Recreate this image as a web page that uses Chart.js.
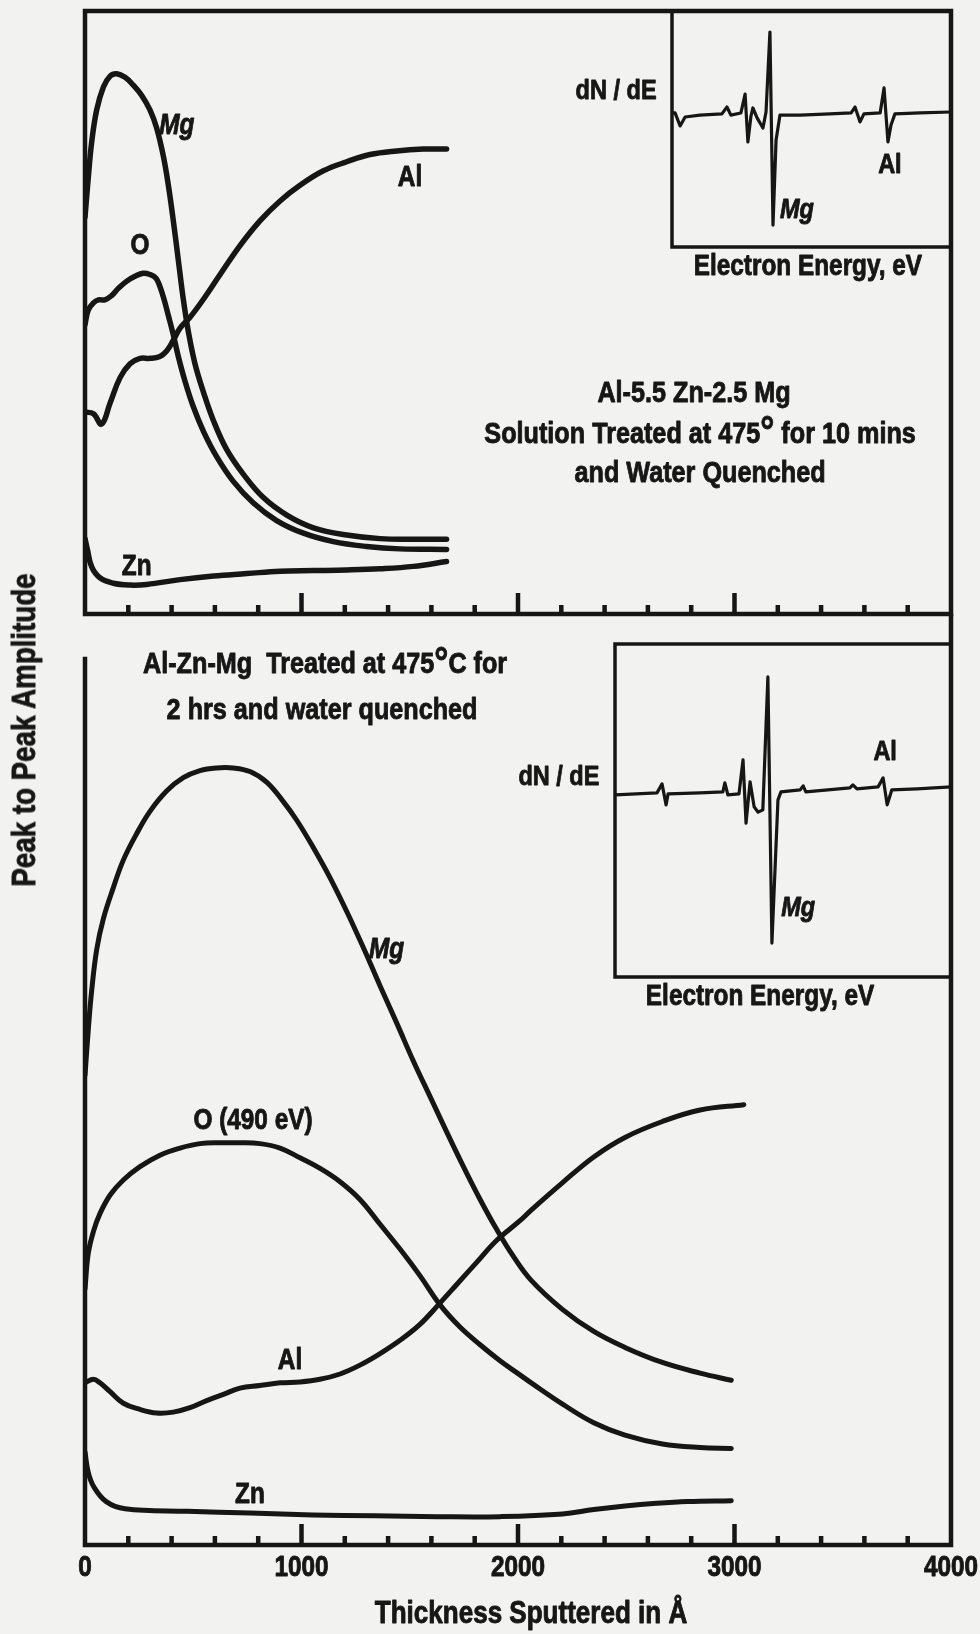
<!DOCTYPE html>
<html>
<head>
<meta charset="utf-8">
<title>Auger depth profiles, Al-Zn-Mg</title>
<script src="https://cdn.jsdelivr.net/npm/chart.js@4.4.1/dist/chart.umd.min.js"></script>
<style>
  html, body { margin: 0; padding: 0; background: #f2f2f1; }
  #page { position: relative; width: 980px; height: 1634px; overflow: hidden; background: #f2f2f1; }
  #page canvas { position: absolute; }
  #yTitle {
    position: absolute; left: 24px; top: 730px;
    transform: translate(-50%, -50%) rotate(-90deg);
    white-space: nowrap; color: #161616;
    -webkit-text-stroke: 0.8px #161616;
    font: bold 33px "Liberation Sans Narrow", "Liberation Sans", Arial, sans-serif;
  }
</style>
</head>
<body>
<div id="page">
  <canvas id="topChart" width="980" height="640" style="left:0;top:0"></canvas>
  <canvas id="bottomChart" width="980" height="1020" style="left:0;top:614px"></canvas>
  <canvas id="topInset" width="285" height="242" style="left:669px;top:8px"></canvas>
  <canvas id="bottomInset" width="342" height="339" style="left:612px;top:641px"></canvas>
  <div id="yTitle">Peak to Peak Amplitude</div>
</div>
<script>
const INK = '#161616';
const FONT = '"Liberation Sans Narrow", "Liberation Sans", Arial, sans-serif';

// thickness axis (Å)
const thicknessTicks = [0, 1000, 2000, 3000, 4000];
const thicknessTickLabels = ['0', '1000', '2000', '3000', '4000'];
const minorTickStep = 200;

// upper panel: Al-5.5 Zn-2.5 Mg, 10 min at 475, water quenched
const upperMgX = [0, 15, 31, 54, 85, 116, 146, 185, 223, 262, 300, 331, 362, 385, 408, 431, 454, 477, 508, 547, 593, 654, 731, 824, 932, 1055, 1209, 1363, 1517, 1670];
const upperMgY = [65.8, 72.3, 78.3, 83.6, 87.4, 89.2, 89.6, 89.0, 87.7, 86.0, 83.6, 80.6, 75.9, 71.1, 65.2, 58.7, 52.2, 46.9, 41.5, 36.8, 32.1, 27.3, 23.2, 19.3, 16.4, 14.3, 13.1, 12.5, 12.4, 12.4];
const upperOX = [0, 15, 39, 62, 92, 123, 154, 193, 231, 269, 300, 328, 346, 365, 385, 408, 431, 462, 500, 547, 608, 685, 778, 885, 1009, 1147, 1301, 1455, 1670];
const upperOY = [48.0, 50.4, 51.6, 52.1, 52.1, 52.8, 54.0, 55.2, 56.0, 56.5, 56.3, 55.7, 54.3, 52.2, 49.5, 46.3, 42.7, 38.6, 34.4, 30.3, 26.1, 22.0, 18.4, 15.5, 13.4, 12.0, 11.2, 10.8, 10.7];
const upperAlX = [0, 39, 77, 116, 162, 208, 254, 300, 346, 377, 408, 439, 485, 547, 624, 716, 808, 901, 993, 1101, 1209, 1316, 1440, 1563, 1670];
const upperAlY = [33.5, 33.2, 31.5, 35.0, 39.2, 41.5, 42.4, 42.4, 42.7, 43.6, 45.4, 47.4, 49.2, 52.2, 56.3, 61.1, 65.2, 68.5, 71.1, 73.5, 75.0, 76.2, 76.8, 77.1, 77.1];
const upperZnX = [0, 11, 31, 69, 131, 208, 285, 439, 593, 747, 901, 1055, 1209, 1363, 1517, 1670];
const upperZnY = [12.5, 10.7, 7.8, 6.0, 5.1, 4.8, 4.9, 5.7, 6.3, 6.7, 7.1, 7.2, 7.3, 7.5, 7.9, 8.7];

// lower panel: Al-Zn-Mg, 2 hrs at 475C, water quenched
const lowerMgX = [0, 15, 31, 54, 85, 131, 177, 239, 300, 377, 454, 531, 608, 685, 762, 839, 916, 978, 1055, 1132, 1209, 1286, 1363, 1440, 1517, 1594, 1671, 1748, 1825, 1902, 1978, 2060, 2205, 2350, 2494, 2667, 2841, 2985];
const lowerMgY = [53.0, 58.1, 62.6, 67.2, 70.7, 74.2, 77.3, 80.3, 82.8, 85.1, 86.6, 87.4, 87.7, 87.7, 87.3, 86.1, 83.9, 81.8, 78.7, 75.3, 71.5, 67.4, 63.1, 58.9, 54.6, 50.6, 46.6, 42.7, 39.0, 35.6, 32.6, 29.9, 26.6, 24.1, 22.3, 20.6, 19.4, 18.6];
const lowerOX = [0, 15, 39, 69, 116, 177, 254, 346, 439, 531, 624, 716, 808, 901, 993, 1086, 1178, 1270, 1363, 1455, 1547, 1640, 1732, 1825, 1917, 2009, 2061, 2206, 2350, 2494, 2667, 2841, 2985];
const lowerOY = [28.9, 32.9, 35.4, 37.4, 39.5, 41.2, 42.7, 44.0, 44.8, 45.3, 45.4, 45.4, 45.3, 44.8, 43.7, 42.5, 41.0, 39.0, 36.2, 33.4, 30.4, 27.1, 24.6, 22.6, 20.8, 19.2, 18.3, 15.9, 13.8, 12.4, 11.4, 11.0, 10.9];
const lowerAlX = [0, 39, 69, 116, 177, 254, 331, 408, 485, 562, 639, 716, 808, 901, 993, 1085, 1178, 1270, 1363, 1455, 1547, 1632, 1717, 1809, 1902, 2009, 2061, 2206, 2350, 2494, 2667, 2841, 3043];
const lowerAlY = [18.3, 18.7, 18.3, 17.3, 16.0, 15.3, 14.9, 15.0, 15.5, 16.3, 17.0, 17.7, 18.0, 18.3, 18.4, 18.7, 19.3, 20.3, 21.6, 23.1, 24.9, 27.1, 29.4, 31.9, 34.4, 36.6, 37.8, 40.9, 43.8, 46.0, 47.8, 49.1, 49.7];
const lowerZnX = [0, 15, 40, 98, 185, 473, 762, 1051, 1340, 1628, 1917, 2206, 2350, 2494, 2639, 2783, 2985];
const lowerZnY = [10.5, 8.2, 6.6, 4.9, 4.1, 3.8, 3.6, 3.4, 3.3, 3.2, 3.2, 3.5, 4.0, 4.4, 4.7, 4.9, 5.0];

// inset dN/dE spectra (arbitrary energy / intensity units)
const upperSpecE = [0, 1.1, 2.9, 4.7, 10.0, 17.9, 19.7, 21.1, 24.7, 26.2, 27.2, 28.3, 29.0, 30.5, 32.6, 33.7, 35.1, 36.2, 37.3, 38.7, 45.9, 56.6, 64.2, 65.6, 67.4, 68.8, 74.6, 76.0, 77.4, 78.5, 79.9, 88.9, 100];
const upperSpecI = [56.8, 56.8, 51.3, 55.1, 55.9, 56.4, 59.3, 55.9, 56.8, 64.8, 44.5, 55.5, 58.9, 54.7, 50.4, 57.2, 91.1, 9.3, 45.3, 55.9, 55.9, 56.4, 56.8, 59.3, 53.0, 56.4, 56.8, 67.4, 44.5, 51.7, 56.4, 56.8, 57.2];
const lowerSpecE = [0, 12.5, 14.0, 15.2, 15.8, 25.3, 32.1, 32.7, 33.6, 36.9, 38.1, 39.0, 40.2, 41.4, 42.6, 44.0, 45.5, 46.7, 48.5, 49.4, 55.1, 56.0, 56.8, 69.9, 70.8, 72.0, 78.3, 79.8, 81.0, 82.4, 89.9, 100];
const lowerSpecI = [54.7, 55.3, 58.0, 51.7, 55.0, 55.3, 55.6, 58.3, 54.7, 55.0, 65.2, 46.2, 58.6, 51.1, 49.5, 50.2, 90.1, 10.2, 53.2, 55.6, 56.2, 57.4, 55.6, 56.8, 57.7, 56.5, 57.1, 59.8, 51.7, 56.2, 56.5, 57.1];

// text placed in data units of each panel
const upperLabels = [
  { text: 'Mg', x: 424, y: 80.9, size: 29, italic: true },
  { text: 'Al', x: 1501, y: 72.3, size: 29 },
  { text: 'O', x: 254, y: 61.1, size: 29 },
  { text: 'Zn', x: 239, y: 7.8, size: 29 },
  { text: 'dN / dE', x: 2453, y: 86.7, size: 28 },
  { text: 'Electron Energy, eV', x: 3339, y: 57.5, size: 29 },
  { text: 'Al-5.5 Zn-2.5 Mg', x: 2813, y: 36.6, size: 30 },
  { runs: [['Solution Treated at 475', 1], ['\u00b0', 1.4], [' for 10 mins', 1]], x: 2841, y: 29.8, size: 30 },
  { text: 'and Water Quenched', x: 2841, y: 23.2, size: 30 }
];
const lowerLabels = [
  { runs: [['Al-Zn-Mg  Treated at 475', 1], ['\u00b0', 1.4], ['C for', 1]], x: 1109, y: 99.3, size: 30 },
  { text: '2 hrs and water quenched', x: 1095, y: 94.2, size: 30 },
  { text: 'Mg', x: 1393, y: 67.2, size: 29, italic: true },
  { text: 'O (490 eV)', x: 776, y: 47.8, size: 29 },
  { text: 'Al', x: 947, y: 20.8, size: 29 },
  { text: 'Zn', x: 762, y: 5.6, size: 29 },
  { text: 'dN / dE', x: 2189, y: 86.6, size: 28 },
  { text: 'Electron Energy, eV', x: 3118, y: 61.9, size: 29 }
];
const upperInsetLabels = [
  { text: 'Mg', x: 44.8, y: 15.7, size: 28, italic: true },
  { text: 'Al', x: 78.1, y: 34.7, size: 28 }
];
const lowerInsetLabels = [
  { text: 'Mg', x: 54.5, y: 20.7, size: 28, italic: true },
  { text: 'Al', x: 80.4, y: 67.6, size: 28 }
];

// the original lettering is a heavy narrow face: squeeze whatever bold sans is installed to that width
const probe = document.createElement('canvas').getContext('2d');
probe.font = 'bold 30px ' + FONT;
const SX = Math.min(1, 562 / (probe.measureText('2 hrs and water quenched').width + probe.measureText('and Water Quenched').width));
const HEAVY = 0.9;

function condense(canvas) {
  const ctx = canvas.getContext('2d');
  const raw = ctx.fillText;
  const rawStroke = ctx.strokeText;
  ctx.fillText = function (t, x, y, maxW) {
    this.save();
    this.translate(x, y);
    this.scale(SX, 1);
    this.strokeStyle = this.fillStyle;
    this.lineWidth = HEAVY;
    this.lineJoin = 'round';
    if (maxW === undefined) {
      rawStroke.call(this, t, 0, 0);
      raw.call(this, t, 0, 0);
    } else {
      rawStroke.call(this, t, 0, 0, maxW / SX);
      raw.call(this, t, 0, 0, maxW / SX);
    }
    this.restore();
  };
  return canvas;
}

document.getElementById('yTitle').style.transform = 'translate(-50%, -50%) rotate(-90deg) scaleX(' + SX + ')';

const pts = (xs, ys) => xs.map((x, i) => ({ x, y: ys[i] }));

function drawLabels(chart, items) {
  const { ctx, scales: { x, y } } = chart;
  ctx.save();
  ctx.fillStyle = INK;
  ctx.textBaseline = 'middle';
  ctx.textAlign = 'left';
  items.forEach(it => {
    const runs = it.runs || [[it.text, 1]];
    const fontFor = k => (it.italic ? 'italic ' : '') + 'bold ' + Math.round(it.size * k) + 'px ' + FONT;
    let w = 0;
    runs.forEach(([t, k]) => { ctx.font = fontFor(k); w += ctx.measureText(t).width * SX; });
    let px = x.getPixelForValue(it.x) - w / 2;
    const py = y.getPixelForValue(it.y);
    runs.forEach(([t, k]) => {
      ctx.font = fontFor(k);
      ctx.fillText(t, px, py);
      px += ctx.measureText(t).width * SX;
    });
  });
  ctx.restore();
}

// box + inward tick marks, and the panel text
function panelPlugin(kind, labels) {
  return {
    id: 'panel_' + kind,
    afterDatasetsDraw(chart) {
      const { ctx, chartArea: a, scales: { x } } = chart;
      ctx.save();
      ctx.strokeStyle = INK;
      ctx.lineWidth = 4.5;
      ctx.lineCap = 'square';
      ctx.beginPath();
      if (kind === 'upper') {
        ctx.rect(a.left, a.top, a.right - a.left, a.bottom - a.top);
      } else {
        ctx.moveTo(a.left, a.top);
        ctx.lineTo(a.left, a.bottom);
        ctx.lineTo(a.right, a.bottom);
        ctx.lineTo(a.right, 0);
      }
      ctx.stroke();
      ctx.lineWidth = 4.5;
      ctx.lineCap = 'butt';
      ctx.beginPath();
      const last = thicknessTicks[thicknessTicks.length - 1];
      for (let v = minorTickStep; v < last; v += minorTickStep) {
        const px = x.getPixelForValue(v);
        const len = thicknessTicks.includes(v) ? 21 : 9;
        ctx.moveTo(px, a.bottom);
        ctx.lineTo(px, a.bottom - len);
      }
      ctx.stroke();
      ctx.restore();
      drawLabels(chart, labels);
    }
  };
}

function insetPlugin(labels) {
  return {
    id: 'insetBox',
    afterDatasetsDraw(chart) {
      const { ctx, chartArea: a } = chart;
      ctx.save();
      ctx.strokeStyle = INK;
      ctx.lineWidth = 3.5;
      ctx.strokeRect(a.left, a.top, a.right - a.left, a.bottom - a.top);
      ctx.restore();
      drawLabels(chart, labels);
    }
  };
}

function curve(label, xs, ys) {
  return { label, data: pts(xs, ys) };
}

function panelChart(id, kind, datasets, labels) {
  const lower = kind === 'lower';
  const xAxis = {
    type: 'linear', min: 0, max: 4000, display: lower,
    afterBuildTicks: s => { s.ticks = thicknessTicks.map(v => ({ value: v })); },
    grid: { display: false, drawTicks: false },
    border: { display: false },
    ticks: {
      color: INK, font: { family: FONT, size: 29, weight: 'bold' }, padding: 6, maxRotation: 0, autoSkip: false,
      callback: (v, i) => thicknessTickLabels[i]
    },
    title: { display: true, text: '\u2003Thickness Sputtered in \u00c5', color: INK, font: { family: FONT, size: 31, weight: 'bold' }, padding: { top: 0, bottom: 1 } }
  };
  if (lower) {
    xAxis.afterFit = s => { s.height = 89; s.paddingLeft = 0; s.paddingRight = 0; };
  }
  return new Chart(condense(document.getElementById(id)), {
    type: 'line',
    data: { datasets },
    options: {
      responsive: false,
      animation: false,
      events: [],
      layout: { padding: lower ? { left: 85, right: 29, top: 45, bottom: 0 } : { left: 85, right: 29, top: 11, bottom: 26 } },
      plugins: { legend: { display: false }, tooltip: { enabled: false } },
      elements: {
        point: { radius: 0 },
        line: { borderColor: INK, borderWidth: lower ? 5 : 5.5, tension: 0.4, fill: false, borderCapStyle: 'round', borderJoinStyle: 'round' }
      },
      scales: {
        x: xAxis,
        y: { type: 'linear', min: 0, max: 100, display: false }
      }
    },
    plugins: [panelPlugin(kind, labels)]
  });
}

function insetChart(id, xs, ys, labels) {
  return new Chart(condense(document.getElementById(id)), {
    type: 'line',
    data: { datasets: [{ label: 'dN/dE', data: pts(xs, ys) }] },
    options: {
      responsive: false,
      animation: false,
      events: [],
      layout: { padding: 3 },
      plugins: { legend: { display: false }, tooltip: { enabled: false } },
      elements: {
        point: { radius: 0 },
        line: { borderColor: INK, borderWidth: 3.2, tension: 0, fill: false, borderJoinStyle: 'round' }
      },
      scales: {
        x: { type: 'linear', min: 0, max: 100, display: false },
        y: { type: 'linear', min: 0, max: 100, display: false }
      }
    },
    plugins: [insetPlugin(labels)]
  });
}

panelChart('topChart', 'upper', [
  curve('Mg', upperMgX, upperMgY),
  curve('O', upperOX, upperOY),
  curve('Al', upperAlX, upperAlY),
  curve('Zn', upperZnX, upperZnY)
], upperLabels);

panelChart('bottomChart', 'lower', [
  curve('Mg', lowerMgX, lowerMgY),
  curve('O (490 eV)', lowerOX, lowerOY),
  curve('Al', lowerAlX, lowerAlY),
  curve('Zn', lowerZnX, lowerZnY)
], lowerLabels);

insetChart('topInset', upperSpecE, upperSpecI, upperInsetLabels);
insetChart('bottomInset', lowerSpecE, lowerSpecI, lowerInsetLabels);
</script>
</body>
</html>
